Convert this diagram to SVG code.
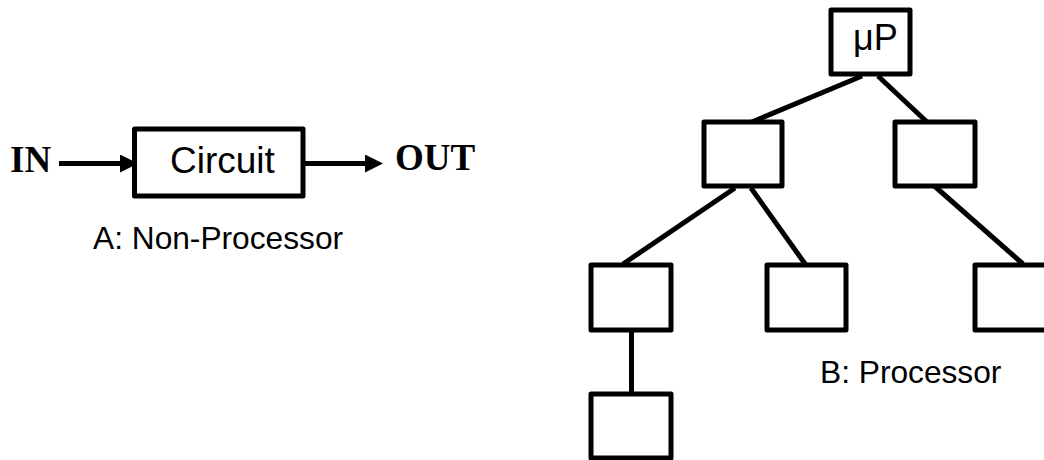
<svg xmlns="http://www.w3.org/2000/svg" width="1044" height="460" viewBox="0 0 1044 460">
<style>
.box{fill:#fff;stroke:#000;stroke-width:5;stroke-linejoin:round}
.ln{stroke:#000;stroke-width:5;fill:none}
.sans{font-family:"Liberation Sans",Arial,sans-serif;fill:#000}
.serif{font-family:"Liberation Serif","Times New Roman",serif;font-weight:bold;fill:#000}
</style>
<defs>
<marker id="ah" markerUnits="userSpaceOnUse" markerWidth="19" markerHeight="19" refX="0" refY="9" orient="auto">
<path d="M0,0 L18,9 L0,18 z" fill="#000"/>
</marker>
</defs>
<rect width="1044" height="460" fill="#fff"/>
<g id="connectors">
<line class="ln" x1="59" y1="163.5" x2="120" y2="163.5" marker-end="url(#ah)"/>
<line class="ln" x1="303" y1="163.5" x2="365" y2="163.5" marker-end="url(#ah)"/>
<line class="ln" x1="862" y1="76" x2="752" y2="122"/>
<line class="ln" x1="878" y1="76" x2="927" y2="122"/>
<line class="ln" x1="735" y1="188" x2="623" y2="264"/>
<line class="ln" x1="751" y1="188" x2="808" y2="268"/>
<line class="ln" x1="931" y1="183" x2="1023" y2="264"/>
<line class="ln" x1="631.5" y1="332" x2="631.5" y2="392"/>
</g>
<g id="in"><text class="serif" x="10" y="172" font-size="37">IN</text></g>
<g id="circuit">
<rect class="box" x="134.5" y="129" width="168.5" height="67"/>
<text class="sans" x="170" y="173" font-size="37">Circuit</text>
</g>
<g id="out"><text class="serif" x="395" y="170" font-size="37">OUT</text></g>
<g id="labelA"><text class="sans" x="93" y="249" font-size="31.7">A: Non-Processor</text></g>
<g id="up">
<rect class="box" x="831" y="10" width="79" height="64"/>
<text class="sans" x="853" y="50" font-size="36">μP</text>
</g>
<g id="n1"><rect class="box" x="704" y="122" width="78" height="64"/></g>
<g id="n2"><rect class="box" x="895" y="122" width="80" height="64"/></g>
<g id="n3"><rect class="box" x="591" y="265" width="80" height="65"/></g>
<g id="n4"><rect class="box" x="767" y="265" width="79" height="65"/></g>
<g id="n5"><rect class="box" x="975" y="265" width="82" height="65"/></g>
<g id="n6"><rect class="box" x="591" y="394" width="80" height="64"/></g>
<g id="labelB"><text class="sans" x="820" y="383" font-size="31.7">B: Processor</text></g>
</svg>
